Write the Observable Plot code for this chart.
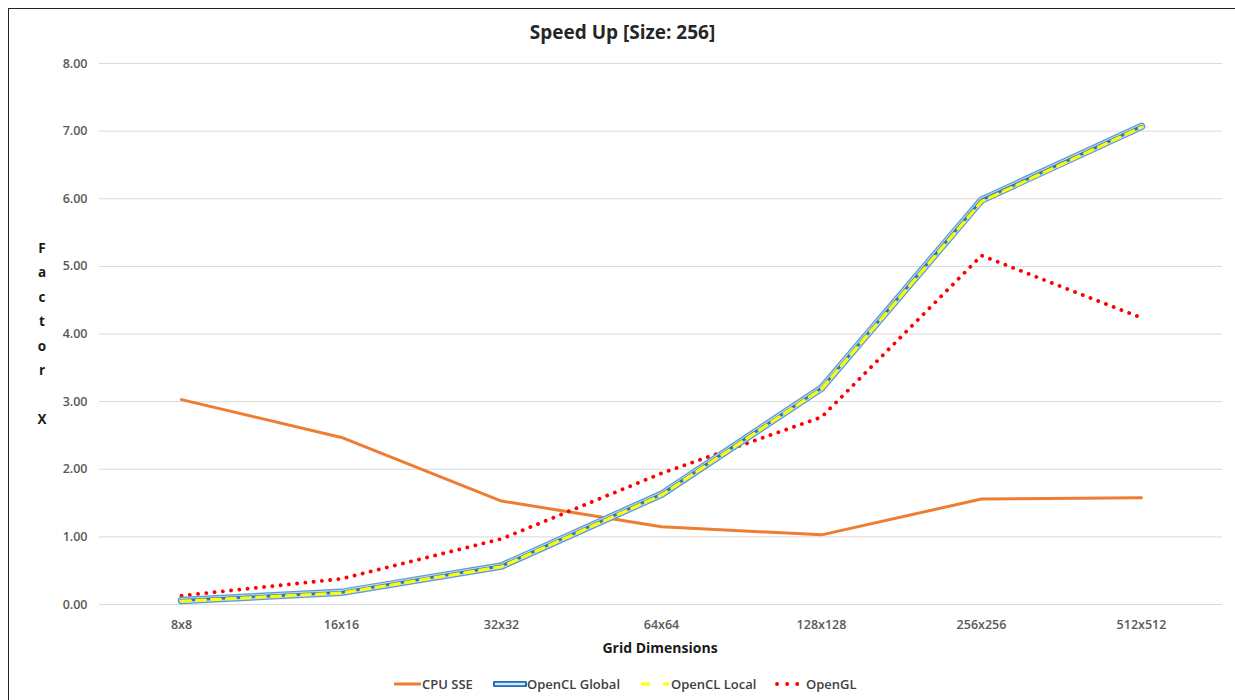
<!DOCTYPE html>
<html>
<head>
<meta charset="utf-8">
<script src="https://cdn.jsdelivr.net/npm/d3@7"></script>
<script src="https://cdn.jsdelivr.net/npm/@observablehq/plot@0.6"></script>
<style>
  html, body { margin: 0; padding: 0; background: #fff; overflow: hidden; }
  body { width: 1235px; height: 700px; position: relative; font-family: "Open Sans", "Noto Sans", sans-serif; }
  #frame { position: absolute; left: 8px; top: 8px; width: 1400px; height: 900px; border: 1.5px solid #222; box-sizing: border-box; }
  #chart { position: absolute; left: 0; top: 0; }
  .title { position: absolute; top: 19px; left: 0; width: 1245px; text-align: center; font-size: 19px; font-weight: 700; color: #262626; }
  .xlabel { position: absolute; top: 638px; left: 560px; width: 200px; text-align: center; font-size: 14px; font-weight: 700; color: #1a1a1a; }
  .ylabel { position: absolute; left: 34px; top: 236px; width: 16px; text-align: center; font-size: 13.5px; font-weight: 700; color: #1a1a1a; line-height: 24.4px; }
  .legend { position: absolute; top: 675px; left: 0; font-size: 13px; font-weight: 600; color: #404040; }
  .legend .item { position: absolute; display: flex; align-items: center; white-space: nowrap; height: 18px; }
  .legend svg { display: block; }
</style>
</head>
<body>
<div id="frame"></div>
<div id="chart"></div>
<div class="title">Speed Up [Size: 256]</div>
<div class="xlabel">Grid Dimensions</div>
<div class="ylabel" id="ylabel"></div>
<div class="legend" id="legend"></div>
<script>
// Grid sizes on the x axis
const grids = ["8x8", "16x16", "32x32", "64x64", "128x128", "256x256", "512x512"];

// Speed-up factor for each implementation
const cpuSSE       = [3.03, 2.47, 1.53, 1.15, 1.03, 1.56, 1.58];
const openclGlobal = [0.06, 0.18, 0.57, 1.63, 3.20, 5.98, 7.07];
const openclLocal  = [0.05, 0.17, 0.56, 1.62, 3.19, 5.96, 7.06];
const opengl       = [0.13, 0.38, 0.97, 1.94, 2.77, 5.16, 4.24];

const yTicks = [0, 1, 2, 3, 4, 5, 6, 7, 8];

const rows = (vals) => grids.map((g, i) => ({grid: g, value: vals[i]}));

const plot = Plot.plot({
  width: 1235,
  height: 700,
  marginLeft: 99,
  marginRight: 13,
  marginTop: 63,
  marginBottom: 96,
  style: {fontFamily: "'Open Sans', 'Noto Sans', sans-serif", background: "transparent", overflow: "visible"},
  x: {type: "point", domain: grids, padding: 0.5, label: null},
  y: {domain: [0, 8], label: null},
  marks: [
    Plot.gridY(yTicks, {stroke: "#d9d9d9", strokeOpacity: 1, strokeWidth: 1}),
    Plot.axisY(yTicks, {tickSize: 0, tickPadding: 12, tickFormat: d3.format(".2f"), fontSize: 12.5, fontWeight: 600, fill: "#595959", label: null}),
    Plot.axisX({tickSize: 0, tickPadding: 16, fontSize: 12.5, fontWeight: 600, fill: "#595959", label: null}),
    // CPU SSE
    Plot.line(rows(cpuSSE), {x: "grid", y: "value", stroke: "#ed7d31", strokeWidth: 3}),
    // OpenGL, round dots
    Plot.line(rows(opengl), {x: "grid", y: "value", stroke: "#ff0000", strokeWidth: 3.8, strokeLinecap: "round", strokeDasharray: "0.1 8.2"}),
    // OpenCL Global, double line
    Plot.line(rows(openclGlobal), {x: "grid", y: "value", stroke: "#5b9bd5", strokeWidth: 7.5}),
    Plot.line(rows(openclGlobal), {x: "grid", y: "value", stroke: "#bdd7ee", strokeWidth: 5}),
    Plot.line(rows(openclGlobal), {x: "grid", y: "value", stroke: "#2e75b6", strokeWidth: 2.8}),
    // OpenCL Local, yellow dashes
    Plot.line(rows(openclLocal), {x: "grid", y: "value", stroke: "#ffff00", strokeWidth: 3, strokeDasharray: "9 6"})
  ]
});
document.getElementById("chart").appendChild(plot);

// Stacked vertical axis title
document.getElementById("ylabel").innerHTML = "Factor X".split("").map(c => c === " " ? "&nbsp;" : c).join("<br>");

// Legend
const legendItems = [
  {label: "CPU SSE", left: 394, swatch: `<svg width="28" height="10"><line x1="0" y1="5" x2="27" y2="5" stroke="#ed7d31" stroke-width="3"/></svg>`},
  {label: "OpenCL Global", left: 493, swatch: `<svg width="34" height="10"><line x1="2" y1="5" x2="32" y2="5" stroke="#1f6fbf" stroke-width="6" stroke-linecap="round"/><line x1="2" y1="5" x2="32" y2="5" stroke="#dbe9f6" stroke-width="2.4"/></svg>`},
  {label: "OpenCL Local", left: 641, swatch: `<svg width="30" height="10"><line x1="0" y1="5" x2="28" y2="5" stroke="#ffff00" stroke-width="3" stroke-dasharray="9 13"/></svg>`},
  {label: "OpenGL", left: 775, swatch: `<svg width="31" height="10"><line x1="2" y1="5" x2="24" y2="5" stroke="#ff0000" stroke-width="3.8" stroke-linecap="round" stroke-dasharray="0.1 10"/></svg>`}
];
const legend = document.getElementById("legend");
for (const it of legendItems) {
  const d = document.createElement("div");
  d.className = "item";
  d.style.left = it.left + "px";
  d.innerHTML = it.swatch + `<span>${it.label}</span>`;
  legend.appendChild(d);
}
</script>
</body>
</html>
